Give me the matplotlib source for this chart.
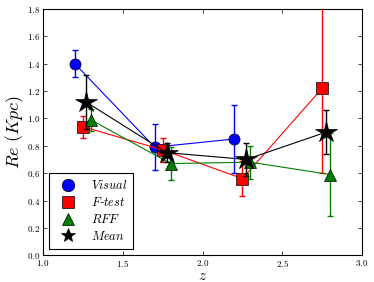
import numpy as np
import matplotlib
matplotlib.use('Agg')
import matplotlib.pyplot as plt
from matplotlib.lines import Line2D
from matplotlib.ticker import FuncFormatter

plt.rcParams['mathtext.fontset'] = 'cm'
plt.rcParams['font.family'] = 'serif'

# Visual
z_vis = [1.20, 1.70, 2.20]
re_vis = [1.40, 0.79, 0.85]
err_vis = [0.10, 0.17, 0.25]

# F-test
z_ft = [1.25, 1.75, 2.25, 2.75]
re_ft = [0.94, 0.77, 0.56, 1.22]
err_ft = [0.08, 0.09, 0.13, 0.62]

# RFF
z_rff = [1.30, 1.80, 2.30, 2.80]
re_rff = [0.99, 0.67, 0.68, 0.59]
err_rff = [0.08, 0.12, 0.12, 0.30]

# Mean
z_mean = [1.27, 1.775, 2.275, 2.775]
re_mean = [1.12, 0.75, 0.70, 0.90]
err_mean = [0.20, 0.07, 0.12, 0.16]

series = [
    (z_vis, re_vis, err_vis, 'b', 'o', 8, 9, r'$Visual$'),
    (z_ft, re_ft, err_ft, 'r', 's', 8, 9, r'$F$-$test$'),
    (z_rff, re_rff, err_rff, 'g', '^', 8, 9, r'$RFF$'),
    (z_mean, re_mean, err_mean, 'k', '*', 16, 10, r'$Mean$'),
]

fig = plt.figure(figsize=(3.74, 2.82), dpi=100)
ax = fig.add_axes([0.115, 0.095, 0.853, 0.873])

handles = []
for i, (x, y, e, c, m, ms, lms, lab) in enumerate(series):
    ax.errorbar(x, y, yerr=e, fmt='-', color=c, lw=0.8, elinewidth=1.0,
                capsize=2.5, zorder=2 + i)
    ax.plot(x, y, ls='none', marker=m, ms=ms, mfc=c, mec='k', mew=0.5,
            zorder=3 + i)
    handles.append(Line2D([], [], ls='none', marker=m, ms=lms, mfc=c,
                          mec='k', mew=0.5, label=lab))

ax.set_xlim(1.0, 3.0)
ax.set_ylim(0.0, 1.8)
ax.set_xticks(np.arange(1.0, 3.01, 0.5))
ax.set_yticks(np.arange(0.0, 1.81, 0.2))
fmt = FuncFormatter(lambda v, p: r'$%.1f$' % v)
ax.xaxis.set_major_formatter(fmt)
ax.yaxis.set_major_formatter(fmt)
ax.tick_params(labelsize=6.5, direction='in', length=3, width=0.5,
               top=True, right=True, pad=2)
for s in ax.spines.values():
    s.set_linewidth(0.8)

ax.set_xlabel(r'$z$', fontsize=11, labelpad=0)
ax.set_ylabel(r'$Re\ (Kpc)$', fontsize=13, labelpad=1)

leg = ax.legend(handles=handles, loc='lower left', fontsize=9, fancybox=False,
                borderpad=0.5, labelspacing=0.3, handletextpad=0.8,
                edgecolor='k', framealpha=1)
leg.get_frame().set_linewidth(0.8)

fig.savefig('out.png', dpi=100)
